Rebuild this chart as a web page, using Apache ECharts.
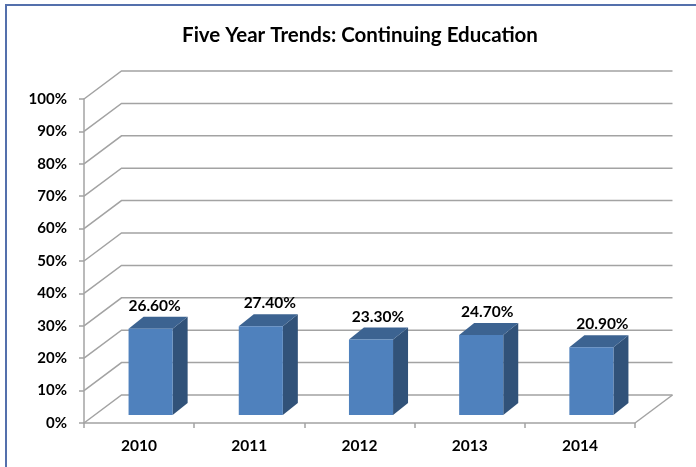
<!DOCTYPE html>
<html><head><meta charset="utf-8">
<style>html,body{margin:0;padding:0;background:#fff}#c{width:696px;height:467px}</style>
<script src="https://cdn.jsdelivr.net/npm/echarts@6/dist/echarts.min.js"></script>
</head><body><div id="c"></div>
<script>
const categories = ['2010','2011','2012','2013','2014'];
const values = [26.6,27.4,23.3,24.7,20.9];
const gridValues = [0,10,20,30,40,50,60,70,80,90,100];

const FONT = 'Lato, "Open Sans", sans-serif';
const LINE = '#a3a3a3';
const WALL_DX = 37.5, WALL_DY = 28;
const BAR_DX = 15, BAR_DY = 12;
const BAR_SHIFT_X = 11.5, BAR_SHIFT_Y = 8;
const LABEL_NUDGE = [4, 9, 7, 6, 11];

function renderWall(params, api) {
  const cs = params.coordSys;
  const y = api.coord([0, api.value(1)])[1];
  const style = {stroke: LINE, lineWidth: 1.5, fill: null};
  const children = [{
    type: 'polyline',
    shape: {points: [[cs.x, y], [cs.x + WALL_DX, y - WALL_DY], [cs.x + cs.width + WALL_DX, y - WALL_DY]]},
    style
  }];
  if (api.value(1) === 0) {
    children.push({
      type: 'line',
      shape: {x1: cs.x + cs.width, y1: y, x2: cs.x + cs.width + WALL_DX, y2: y - WALL_DY},
      style
    });
  }
  return {type: 'group', children};
}

function renderBar(params, api) {
  const i = api.value(0), v = api.value(1);
  const top = api.coord([i, v]), base = api.coord([i, 0]);
  const w = api.size([1, 0])[0] * 0.4;
  const l = top[0] - w / 2 + BAR_SHIFT_X, r = l + w;
  const t = top[1] - BAR_SHIFT_Y, b = base[1] - BAR_SHIFT_Y;
  return {type: 'group', children: [
    {type: 'polygon', shape: {points: [[r, t], [r + BAR_DX, t - BAR_DY], [r + BAR_DX, b - BAR_DY], [r, b]]},
      style: {fill: '#315279'}},
    {type: 'polygon', shape: {points: [[l, t], [l + BAR_DX, t - BAR_DY], [r + BAR_DX, t - BAR_DY], [r, t]]},
      style: {fill: '#3c6391'}},
    {type: 'rect', shape: {x: l, y: t, width: w, height: b - t},
      style: {fill: '#4f81bd'}},
    {type: 'text', x: (l + r) / 2 + LABEL_NUDGE[i], y: t - 23,
      style: {text: v.toFixed(2) + '%', fill: '#000', font: 'bold 15.5px ' + FONT, align: 'center', verticalAlign: 'middle'}}
  ]};
}

const chart = echarts.init(document.getElementById('c'), null, {renderer: 'canvas'});
chart.setOption({
  animation: false,
  backgroundColor: '#fff',
  title: {
    text: 'Five Year Trends: Continuing Education',
    left: 355, top: 20, textAlign: 'center',
    textStyle: {fontFamily: FONT, fontWeight: 'bold', fontSize: 20.5, color: '#000'}
  },
  grid: {left: 84, right: 61, top: 99, bottom: 44},
  xAxis: {
    type: 'category', data: categories,
    axisLine: {lineStyle: {color: LINE, width: 1.5}},
    axisTick: {show: true, length: 5, lineStyle: {color: LINE, width: 1.5}},
    axisLabel: {color: '#000', fontFamily: FONT, fontWeight: 'bold', fontSize: 15.5, margin: 15}
  },
  yAxis: {
    type: 'value', min: 0, max: 100, interval: 10,
    splitLine: {show: false},
    axisLine: {show: true, lineStyle: {color: LINE, width: 1.5}},
    axisTick: {show: true, length: 5, lineStyle: {color: LINE, width: 1.5}},
    axisLabel: {formatter: '{value}%', color: '#000', fontFamily: FONT, fontWeight: 'bold', fontSize: 15, margin: 17}
  },
  graphic: [
    {type: 'rect', silent: true, shape: {x: 5, y: 4, width: 691, height: 2}, style: {fill: '#5470ac'}},
    {type: 'rect', silent: true, shape: {x: 5, y: 4, width: 2, height: 463}, style: {fill: '#5470ac'}}
  ],
  series: [
    {type: 'custom', clip: false, silent: true, z: 1, renderItem: renderWall,
      data: gridValues.map(v => [0, v])},
    {type: 'custom', clip: false, silent: true, z: 3, renderItem: renderBar,
      data: values.map((v, i) => [i, v])}
  ]
});
</script></body></html>
